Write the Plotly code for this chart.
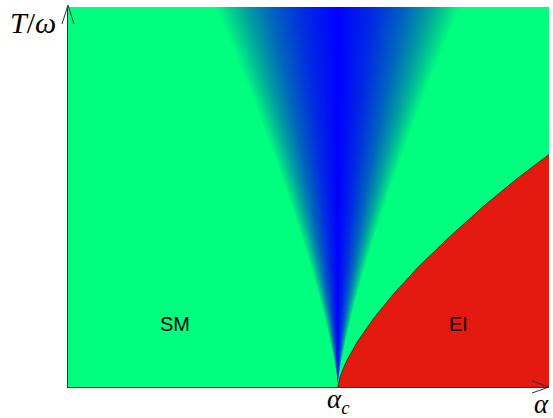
import numpy as np
import plotly.graph_objects as go

# --- data (axis units: alpha in [0,1], T/omega in [0,1]) ---
alpha_c = 0.561
# phase boundary between SM and EI (red region)
boundary_alpha = [0.561, 0.5631, 0.5652, 0.5714, 0.5818, 0.6026, 0.6338, 0.6753,
                  0.7273, 0.7897, 0.8625, 0.9352, 1.0]
boundary_T = [0.0, 0.0153, 0.0247, 0.0463, 0.0747, 0.1208, 0.1776, 0.2426,
              0.3147, 0.3911, 0.4742, 0.55, 0.612]
# quantum-critical fan: half-width (in alpha units) at T=1 where colour is fully green,
# and how the half-width grows with T
fan_halfwidth_top = 0.255
fan_growth_exp = 1.3
fan_colorscale = [
    [0.0, "rgb(0,0,255)"],
    [0.3, "rgb(0,45,225)"],
    [0.55, "rgb(0,100,190)"],
    [0.75, "rgb(0,160,160)"],
    [0.9, "rgb(0,215,138)"],
    [1.0, "rgb(0,255,127)"],
]
region_labels = ["SM", "EI"]
region_alpha = [0.2225, 0.811]
region_T = [0.165, 0.165]

GREEN = "rgb(0,255,127)"
RED = "#E41A10"

# --- fan heat map ---
nx, ny = 481, 380
xs = (np.arange(nx) + 0.5) / nx
ys = (np.arange(ny) + 0.5) / ny
X, Y = np.meshgrid(xs, ys)
Z = np.clip(np.abs(X - alpha_c) / (fan_halfwidth_top * Y ** fan_growth_exp), 0, 1)

fig = go.Figure()
fig.add_trace(go.Heatmap(x=xs, y=ys, z=Z, colorscale=fan_colorscale, zmin=0, zmax=1,
                         showscale=False, hoverinfo="skip"))

# red region
fig.add_trace(go.Scatter(x=boundary_alpha + [1.0], y=boundary_T + [0.0], mode="lines",
                         fill="toself", fillcolor=RED, line=dict(width=0),
                         hoverinfo="skip", showlegend=False))
fig.add_trace(go.Scatter(x=boundary_alpha, y=boundary_T, mode="lines",
                         line=dict(color="rgba(40,40,20,0.8)", width=1),
                         hoverinfo="skip", showlegend=False))

# region labels
for lab, a, t in zip(region_labels, region_alpha, region_T):
    fig.add_annotation(text=lab, x=a, y=t, xref="x", yref="y", showarrow=False,
                       font=dict(family="Liberation Sans, Arial", size=20, color="black"))

fig.update_layout(
    width=553, height=418,
    margin=dict(l=68, r=4, t=7, b=31),
    paper_bgcolor="white", plot_bgcolor=GREEN,
    showlegend=False,
    xaxis=dict(range=[0, 1], showgrid=False, zeroline=False, showticklabels=False,
               ticks="", showline=True, linecolor="#333", linewidth=1),
    yaxis=dict(range=[0, 1], showgrid=False, zeroline=False, showticklabels=False,
               ticks="", showline=True, linecolor="#333", linewidth=1),
)

# arrow heads (open) on the axes
arrow = dict(type="line", xref="paper", yref="paper", line=dict(color="#333", width=1))
fig.add_shape(x0=1.0, y0=0.0, x1=0.9647, y1=0.0158, **arrow)
fig.add_shape(x0=1.0, y0=0.0, x1=0.9647, y1=-0.0158, **arrow)
fig.add_shape(x0=0.0, y0=1.005, x1=-0.0125, y1=0.955, **arrow)
fig.add_shape(x0=0.0, y0=1.005, x1=0.0125, y1=0.955, **arrow)

serif = dict(family="Liberation Serif, DejaVu Serif, serif", size=27, color="black")
fig.add_annotation(text="<i>T</i>/<i>ω</i>", xref="paper", yref="paper",
                   x=-0.072, y=0.96, showarrow=False,
                   font=dict(family=serif["family"], size=30, color="black"),
                   xanchor="center", yanchor="middle")
fig.add_annotation(text="<i>α</i><sub><i>c</i></sub>", xref="x", yref="paper",
                   x=alpha_c + 0.002, y=-0.036, showarrow=False, font=serif,
                   xanchor="center", yanchor="middle")
fig.add_annotation(text="<i>α</i>", xref="paper", yref="paper",
                   x=0.965, y=-0.045, showarrow=False, font=serif, xanchor="left", yanchor="middle")

fig.write_html("out.html", config={"responsive": False, "displayModeBar": False},
               post_script="document.body.style.margin='0px';document.body.style.overflow='hidden';")
